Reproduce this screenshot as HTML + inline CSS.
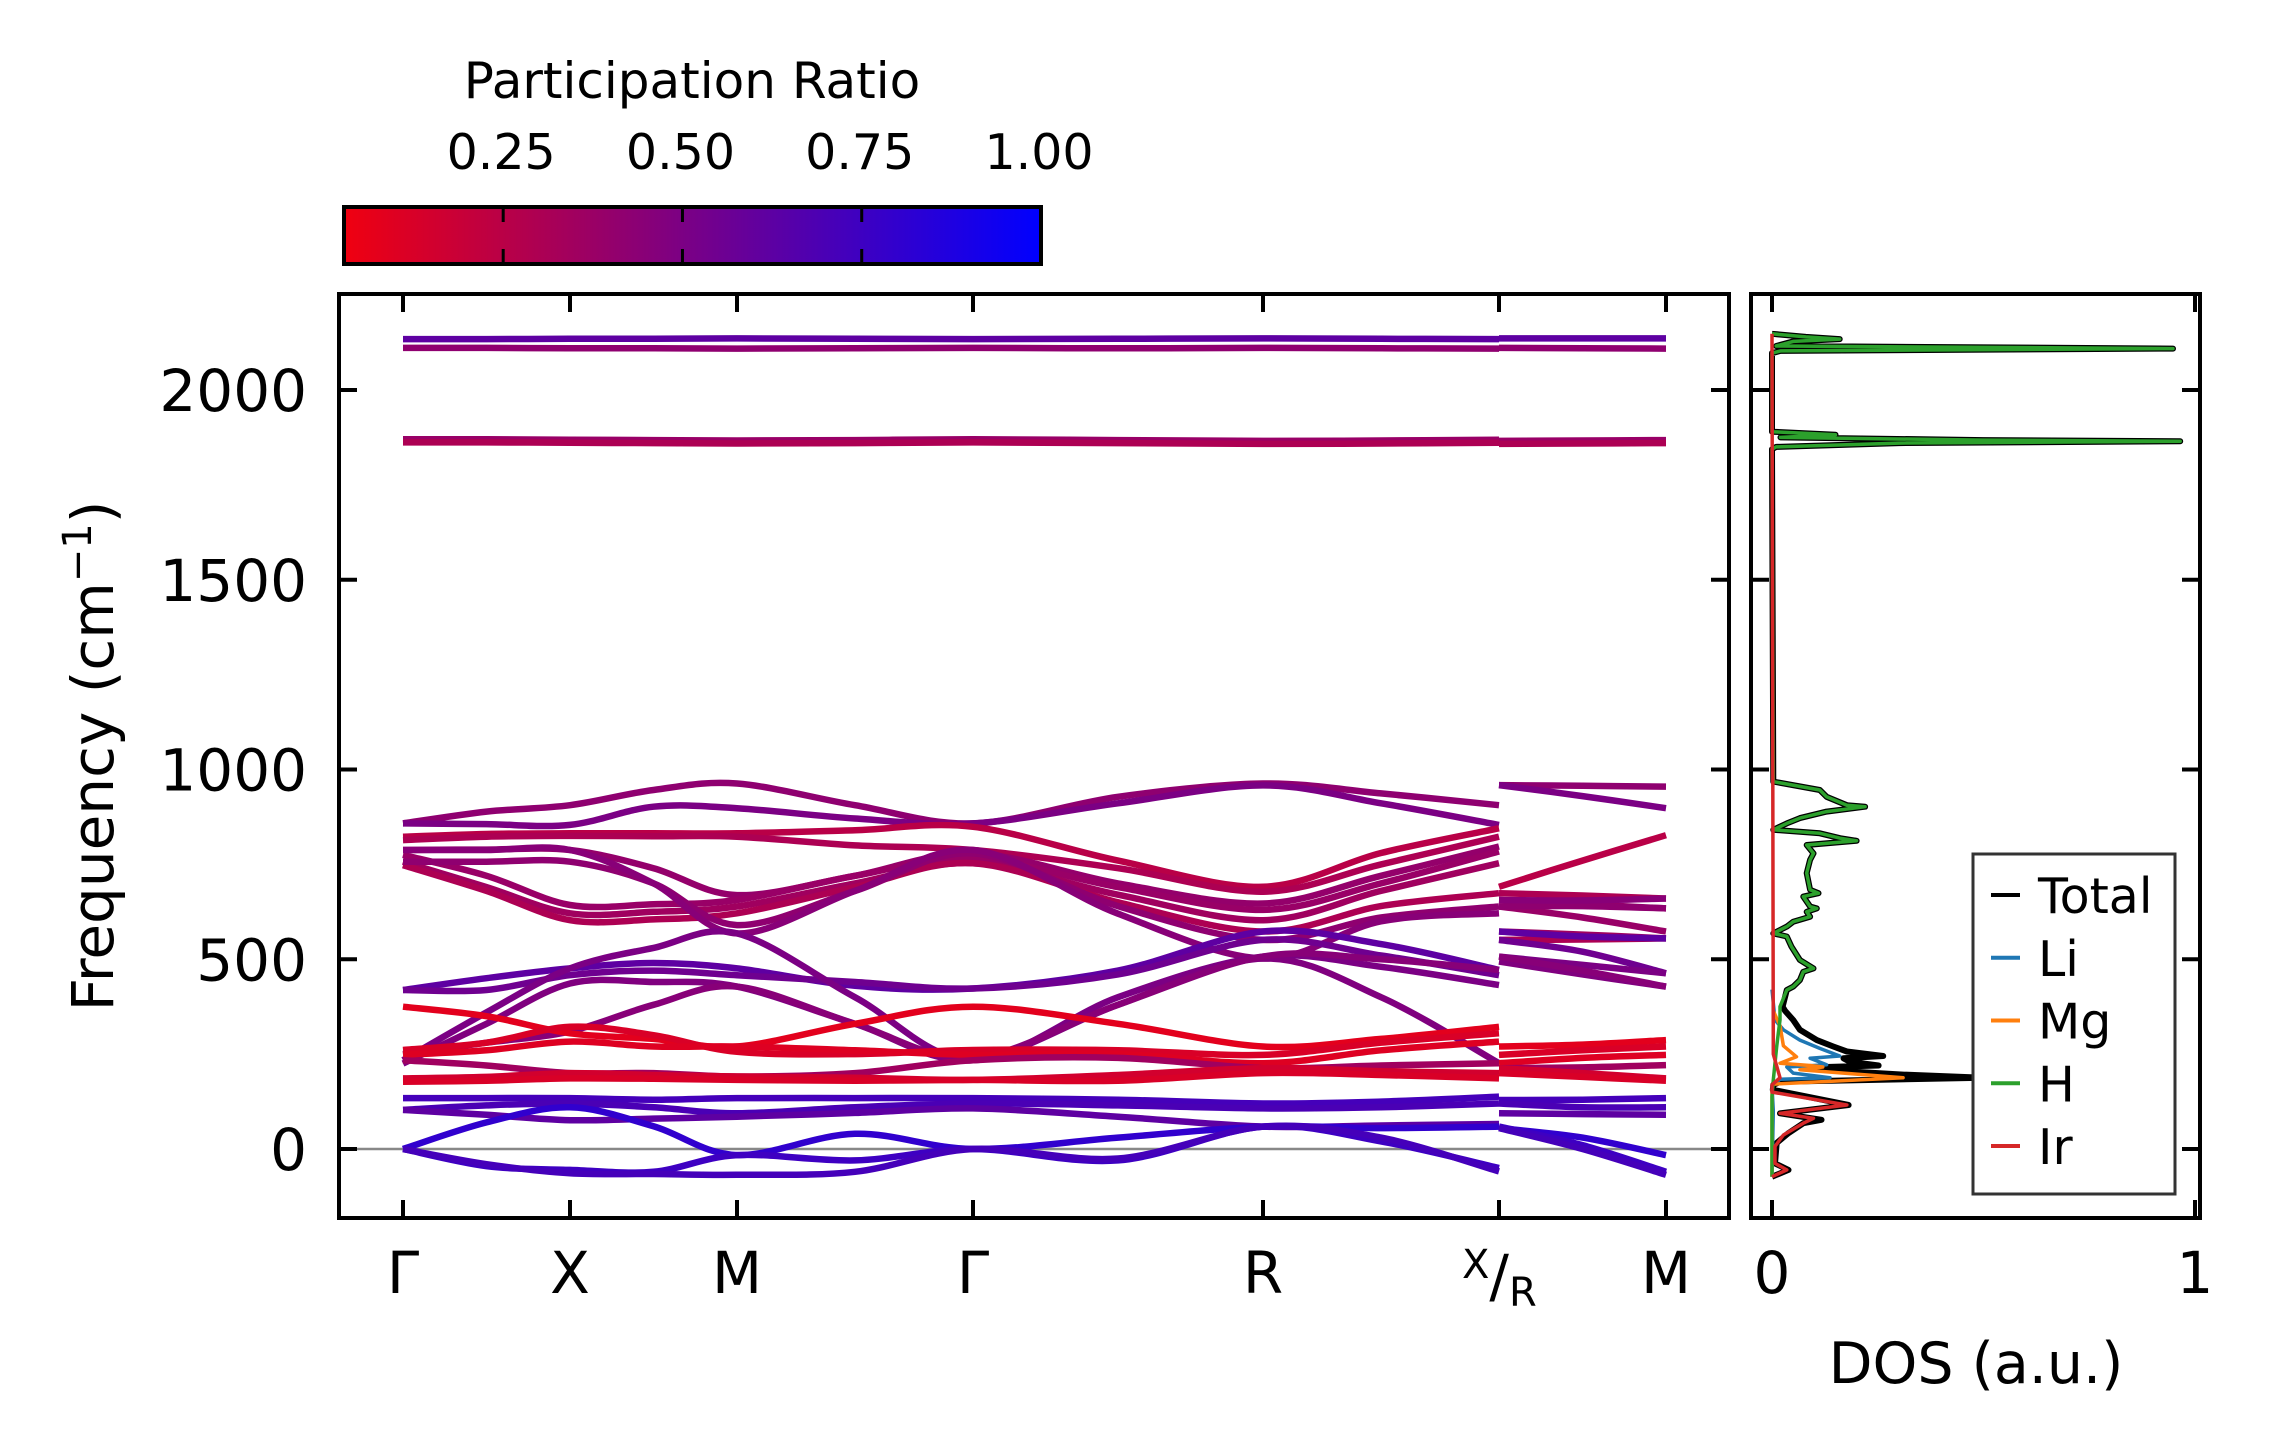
<!DOCTYPE html>
<html><head><meta charset="utf-8"><style>
html,body{margin:0;padding:0;background:#fff;}
svg{display:block;font-family:"DejaVu Sans","Liberation Sans",sans-serif;}
</style></head><body>
<svg id="chart" xmlns="http://www.w3.org/2000/svg" width="2273" height="1455" viewBox="0 0 2273 1455">
<defs>
<linearGradient id="cbgrad" x1="0" x2="1" y1="0" y2="0">
<stop offset="0" stop-color="rgb(240,0,16)"/><stop offset="1" stop-color="rgb(0,0,255)"/>
</linearGradient>
<clipPath id="mainclip"><rect x="339" y="294" width="1390" height="924"/></clipPath>
<clipPath id="dosclip"><rect x="1751" y="294" width="449" height="924"/></clipPath>
</defs>
<g>
<text x="692" y="98" font-size="50" text-anchor="middle">Participation Ratio</text>
<rect x="344" y="207" width="697" height="57" fill="url(#cbgrad)" stroke="#000" stroke-width="4"/>
<g id="cbticks"></g>
</g>
<g id="bands" clip-path="url(#mainclip)"></g>
<g id="dos" clip-path="url(#dosclip)"></g>
<g id="axes"></g>
<g>
<rect x="1973" y="854" width="202" height="340" fill="#fff" stroke="#333" stroke-width="3"/>
<g id="legend"></g>
</g>
<text transform="translate(113,756) rotate(-90)" font-size="58" text-anchor="middle">Frequency (cm<tspan dy="-22" font-size="40">−1</tspan><tspan dy="22">)</tspan></text>
<text x="1976" y="1383" font-size="57" text-anchor="middle">DOS (a.u.)</text>
</svg>
<script>
// ---- data ----
const kLabels = ["Γ","X","M","Γ","R","X/R","M"];
const yTicks = [0,500,1000,1500,2000];
const cbTicks = [0.25,0.50,0.75,1.00];
const cbTickLabels = ["0.25","0.50","0.75","1.00"];
// band values: [Γ, m, X, m, M, m, Γ, m, R, m, X, R', m, M']
const bandValues = [
[858,889,906,946,963,906,858,928,963,937,906,959,957,955],
[858,856,854,902,898,871,858,911,958,911,854,959,930,898],
[823,830,832,832,832,840,849,760,691,780,845,691,760,827],
[814,823,825,824,823,800,788,740,678,750,823,674,668,660],
[788,789,788,740,669,720,779,700,647,720,797,656,645,634],
[775,720,643,645,656,720,766,690,630,700,784,639,610,573],
[757,690,621,625,639,700,753,670,603,680,753,573,565,555],
[748,680,603,605,621,690,753,650,573,640,674,551,552,555],
[757,757,757,700,590,680,779,640,551,610,639,639,640,634],
[788,788,788,700,568,680,788,620,502,600,621,656,655,660],
[419,450,476,490,476,430,423,470,573,540,472,573,560,555],
[419,419,458,470,458,440,423,460,551,510,458,551,520,463],
[234,360,476,530,568,400,234,400,507,480,432,507,485,463],
[225,330,436,440,428,330,234,380,502,400,226,494,460,428],
[250,280,310,380,428,330,240,380,507,500,472,507,470,428],
[375,350,305,290,270,330,375,330,270,290,322,270,275,287],
[261,280,322,300,256,250,261,260,248,280,305,248,260,270],
[248,260,283,270,270,260,248,250,226,260,283,226,240,248],
[234,220,200,200,191,200,234,240,213,220,226,213,215,221],
[186,190,200,195,191,188,182,195,213,205,200,213,200,186],
[177,180,186,185,182,180,182,180,200,195,186,200,190,180],
[134,134,134,130,134,134,134,130,120,125,138,129,130,134],
[103,115,120,110,94,110,120,115,107,110,120,120,110,110],
[103,90,76,80,85,95,107,85,59,62,66,94,92,90],
[0,70,110,60,-16,40,0,30,59,55,59,55,30,-16],
[0,-45,-55,-60,-16,-30,0,-30,59,20,-50,59,10,-60],
[0,-40,-64,-66,-68,-60,0,-25,59,30,-59,55,0,-68],
[2134,2134,2135,2135,2136,2135,2134,2135,2136,2135,2134,2136,2136,2136],
[2111,2111,2110,2110,2109,2110,2111,2110,2111,2110,2109,2111,2110,2109],
[1870,1870,1869,1868,1867,1868,1870,1868,1866,1867,1869,1866,1867,1868],
[1862,1862,1861,1860,1859,1860,1862,1860,1858,1859,1861,1858,1859,1860]
];
const bandPR = [0.42,0.5,0.25,0.3,0.4,0.38,0.35,0.3,0.42,0.45,0.62,0.55,0.5,0.48,0.45,0.08,0.12,0.1,0.35,0.15,0.12,0.72,0.7,0.62,0.8,0.75,0.72,0.62,0.42,0.38,0.3];
// DOS data (frequency, dos)
const hFreq = [2148,2140,2134,2128,2116,2109,2103,2097,1890,1882,1875,1868,1865,1860,1850,1844,968,946,928,906,902,889,872,858,841,832,819,812,801,779,762,727,683,674,665,639,634,625,612,599,586,577,568,560,533,498,476,467,445,428,419,375,340,305,270,226,182,138,-73];
const hDos = [0,0.08,0.16,0.05,0.01,0.948,0.02,0,0,0.15,0.02,0.5,0.965,0.3,0.01,0,0.003,0.113,0.129,0.177,0.22,0.129,0.066,0.035,0.003,0.113,0.161,0.2,0.082,0.098,0.09,0.082,0.09,0.11,0.074,0.09,0.106,0.082,0.09,0.05,0.035,0.019,0.003,0.035,0.046,0.066,0.098,0.074,0.066,0.05,0.035,0.019,0.019,0.015,0.011,0.007,0.003,0,0];
const totLowFreq = [375,364,340,314,287,270,257,245,239,230,220,216,209,196,188,177,169,156,116,94,77,68,42,16,-38,-55,-73];
const totLowDos = [0.025,0.031,0.05,0.066,0.106,0.145,0.177,0.263,0.169,0.184,0.252,0.129,0.113,0.31,0.5,0.019,0.003,0.002,0.181,0.019,0.117,0.074,0.039,0.011,0.007,0.039,0];
const liFreq = [420,340,314,287,265,245,239,222,216,200,188,184,165,100,-73];
const liDos = [0,0.007,0.027,0.066,0.113,0.16,0.09,0.129,0.035,0.05,0.137,0.019,0,0.003,0];
const mgFreq = [364,325,272,243,226,220,216,209,188,171,156,-73];
const mgDos = [0.003,0.019,0.027,0.058,0.019,0.09,0.12,0.066,0.31,0.003,0,0];
const irFreq = [2148,250,188,169,150,116,94,81,68,37,7,-38,-55,-73];
const irDos = [0,0.003,0.019,0,0,0.177,0.019,0.098,0.074,0.027,0.007,0.007,0.035,0];
const legendNames = ["Total","Li","Mg","H","Ir"];
const legendColors = ["#000000","#1f77b4","#ff7f0e","#2ca02c","#d62728"];

// ---- scales ----
const NS = "http://www.w3.org/2000/svg";
const kPos = [403,570,737,973,1263,1499,1666];
function fy(f){ return 1149 - 0.3795*f; }
function dx(d){ return 1772 + 423*d; }
function cbx(v){ return 344 + (v-0.028)/(1-0.028)*697; }
function prColor(p){ const t=Math.max(0,Math.min(1,(p-0.028)/0.972)); return `rgb(${Math.round(240*(1-t))},0,${Math.round(16+239*t)})`; }
function mk(tag, attrs, parent){ const e=document.createElementNS(NS,tag); for(const k in attrs) e.setAttribute(k,attrs[k]); parent.appendChild(e); return e; }
function spline(pts){
  let d=`M${pts[0][0].toFixed(1)},${pts[0][1].toFixed(1)}`;
  for(let i=0;i<pts.length-1;i++){
    const p0=pts[i-1]||pts[i], p1=pts[i], p2=pts[i+1], p3=pts[i+2]||pts[i+1];
    const c1=[p1[0]+(p2[0]-p0[0])/6, p1[1]+(p2[1]-p0[1])/6];
    const c2=[p2[0]-(p3[0]-p1[0])/6, p2[1]-(p3[1]-p1[1])/6];
    d+=` C${c1[0].toFixed(1)},${c1[1].toFixed(1)} ${c2[0].toFixed(1)},${c2[1].toFixed(1)} ${p2[0].toFixed(1)},${p2[1].toFixed(1)}`;
  }
  return d;
}
function polyline(fs, ds){ return fs.map((f,i)=>(i?'L':'M')+dx(ds[i]).toFixed(1)+','+fy(f).toFixed(1)).join(' '); }

const seg1X=[], seg2X=[];
for(let i=0;i<5;i++){ seg1X.push(kPos[i]); seg1X.push((kPos[i]+kPos[i+1])/2); }
seg1X.push(kPos[5]);
seg2X.push(kPos[5], (kPos[5]+kPos[6])/2, kPos[6]);

// ---- bands ----
const bandsG=document.getElementById('bands');
const zl=mk('line',{x1:339,x2:1729,y1:fy(0),y2:fy(0),stroke:'#888',"stroke-width":2.5},bandsG);


bandValues.forEach((vals,bi)=>{
  const col=prColor(bandPR[bi]);
  const p1=seg1X.map((x,i)=>[x,fy(vals[i])]);
  const p2=seg2X.map((x,i)=>[x,fy(vals[11+i])]);
  const a=mk('path',{d:spline(p1),fill:'none',stroke:col,"stroke-width":6.5},bandsG);
  
  
  const b=mk('path',{d:spline(p2),fill:'none',stroke:col,"stroke-width":6.5},bandsG);
  
  
});

// ---- DOS ----
const dosG=document.getElementById('dos');
const totFreq=hFreq.filter(f=>f>=419).concat(totLowFreq);
const totDos=hDos.filter((d,i)=>hFreq[i]>=419).concat(totLowDos);
const tot=mk('path',{d:polyline(totFreq,totDos),fill:'none',stroke:'#000',"stroke-width":6,"stroke-linejoin":'round'},dosG);


[[liFreq,liDos,'#1f77b4','dos-li'],[mgFreq,mgDos,'#ff7f0e','dos-mg'],[hFreq,hDos,'#2ca02c','dos-h'],[irFreq,irDos,'#d62728','dos-ir']].forEach(s=>{
  const p=mk('path',{d:polyline(s[0],s[1]),fill:'none',stroke:s[2],"stroke-width":3.5,"stroke-linejoin":'round'},dosG);
  
  
});

// ---- axes ----
const ax=document.getElementById('axes');
const fr1=mk('rect',{x:339,y:294,width:1390,height:924,fill:'none',stroke:'#000',"stroke-width":4},ax);


const fr2=mk('rect',{x:1751,y:294,width:449,height:924,fill:'none',stroke:'#000',"stroke-width":4},ax);


kPos.forEach((x,i)=>{
  mk('line',{x1:x,x2:x,y1:1218,y2:1200,stroke:'#000',"stroke-width":4},ax);
  mk('line',{x1:x,x2:x,y1:294,y2:312,stroke:'#000',"stroke-width":4},ax);
  let t;
  if(kLabels[i]==="X/R"){
    t=mk('text',{x:x-37,y:1278,"font-size":40},ax);
    t.innerHTML='X<tspan font-size="58" dy="18">/</tspan><tspan font-size="40" dy="10">R</tspan>';
  } else {
    t=mk('text',{x:x,y:1293,"font-size":58,"text-anchor":'middle'},ax);
    t.textContent=kLabels[i];
  }
  
  
});
yTicks.forEach(v=>{
  const y=fy(v);
  mk('line',{x1:339,x2:357,y1:y,y2:y,stroke:'#000',"stroke-width":4},ax);
  mk('line',{x1:1729,x2:1711,y1:y,y2:y,stroke:'#000',"stroke-width":4},ax);
  mk('line',{x1:1751,x2:1769,y1:y,y2:y,stroke:'#000',"stroke-width":4},ax);
  mk('line',{x1:2200,x2:2182,y1:y,y2:y,stroke:'#000',"stroke-width":4},ax);
  const t=mk('text',{x:307,y:y+21,"font-size":58,"text-anchor":'end'},ax);
  t.textContent=String(v);
  
  
});
[0,1].forEach(v=>{
  const x=dx(v);
  mk('line',{x1:x,x2:x,y1:1218,y2:1200,stroke:'#000',"stroke-width":4},ax);
  mk('line',{x1:x,x2:x,y1:294,y2:312,stroke:'#000',"stroke-width":4},ax);
  const t=mk('text',{x:x,y:1293,"font-size":58,"text-anchor":'middle'},ax);
  t.textContent=String(v);
  
  
});

// ---- colorbar ticks ----
const cbg=document.getElementById('cbticks');
cbTicks.forEach((v,i)=>{
  const x=cbx(v);
  mk('line',{x1:x,x2:x,y1:207,y2:222,stroke:'#000',"stroke-width":3},cbg);
  mk('line',{x1:x,x2:x,y1:264,y2:249,stroke:'#000',"stroke-width":3},cbg);
  const t=mk('text',{x:x-2,y:169,"font-size":49,"text-anchor":'middle'},cbg);
  t.textContent=cbTickLabels[i];
  
  
});

// ---- legend ----
const lg=document.getElementById('legend');
legendNames.forEach((n,i)=>{
  const y=895+i*62.75;
  const l=mk('line',{x1:1991,x2:2020,y1:y,y2:y,stroke:legendColors[i],"stroke-width":4},lg);
  
  
  const t=mk('text',{x:2038,y:y+18,"font-size":49},lg);
  t.textContent=n;
  
  
});
</script>
</body></html>
